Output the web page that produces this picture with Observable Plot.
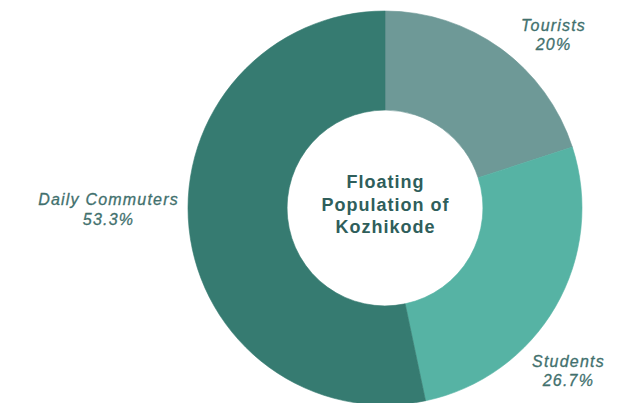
<!DOCTYPE html>
<html>
<head>
<meta charset="utf-8">
<script src="https://cdn.jsdelivr.net/npm/d3@7"></script>
<script src="https://cdn.jsdelivr.net/npm/@observablehq/plot@0.6"></script>
<style>
  html, body { margin: 0; padding: 0; background: #fff; }
  #chart { width: 636px; height: 403px; overflow: hidden; }
</style>
</head>
<body>
<div id="chart"></div>
<script>
// Data
const categories = ["Tourists", "Students", "Daily Commuters"];
const values = [20, 26.7, 53.3];
const percentLabels = ["20%", "26.7%", "53.3%"];
const colors = ["#6e9997", "#56b3a4", "#367b71"];
const centerTitle = "Floating\nPopulation of\nKozhikode";

// Label layout (polar, in units of the outer radius)
const labelAngleDeg = [44, 131.5, 270];
const labelRadius = [1.228, 1.24, 1.406];

const rows = categories.map((c, i) => ({ category: c, value: values[i], pct: percentLabels[i], color: colors[i] }));
const arcs = d3.pie().sort(null).value(d => d.value)(rows);

const labels = rows.map((d, i) => {
  const a = labelAngleDeg[i] * Math.PI / 180;
  return { x: labelRadius[i] * Math.sin(a), y: labelRadius[i] * Math.cos(a), text: d.category + "\n" + d.pct };
});

function donut(index, scales, values, dimensions, context) {
  const cx = scales.x(0), cy = scales.y(0);
  const R = scales.x(1) - scales.x(0);
  const arc = d3.arc().outerRadius(R).innerRadius(R * 0.497);
  const g = d3.create("svg:g").attr("transform", `translate(${cx},${cy})`);
  g.selectAll("path").data(arcs).join("path")
    .attr("d", arc)
    .attr("fill", d => d.data.color)
    .attr("stroke", d => d.data.color)
    .attr("stroke-width", 0.6);
  return g.node();
}

const chart = Plot.plot({
  width: 636,
  height: 403,
  margin: 0,
  x: { domain: [-1, 1], range: [188, 582], axis: null },
  y: { domain: [-1, 1], range: [405, 11], axis: null },
  style: { background: "#fff", overflow: "hidden" },
  marks: [
    donut,
    Plot.text([0], {
      x: () => 0, y: () => 0,
      text: () => centerTitle,
      fontSize: 18, fontWeight: "bold", lineHeight: 1.23,
      fill: "#2f5e5b", fontFamily: "'Liberation Sans', Arial, sans-serif",
      textAnchor: "middle", dy: -5, className: "center-title"
    }),
    Plot.text(labels, {
      x: "x", y: "y", text: "text",
      fontSize: 16, fontStyle: "italic", lineHeight: 1.22,
      fill: "#41706d", stroke: "#41706d", strokeWidth: 0.3,
      fontFamily: "'Liberation Sans', Arial, sans-serif",
      textAnchor: "middle", className: "slice-label"
    })
  ]
});
chart.querySelectorAll(".center-title text").forEach(t => t.style.letterSpacing = "1px");
chart.querySelectorAll(".slice-label text").forEach(t => t.style.letterSpacing = "1.2px");
document.getElementById("chart").appendChild(chart);
</script>
</body>
</html>
